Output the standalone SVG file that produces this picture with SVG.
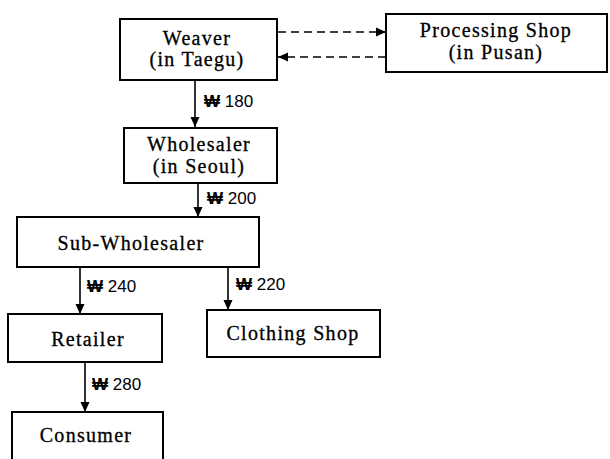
<svg xmlns="http://www.w3.org/2000/svg" width="610" height="459" viewBox="0 0 610 459">
<defs>
<marker id="ah" viewBox="0 0 10 10" refX="10" refY="5" markerWidth="10" markerHeight="11" markerUnits="userSpaceOnUse" orient="auto">
<path d="M0,0.5 L10,5 L0,9.5 Z" fill="#000"/>
</marker>
<style>
.box{fill:#fff;stroke:#000;stroke-width:2}
.t{font-family:"Liberation Serif","Times New Roman",serif;font-size:20px;letter-spacing:1.3px;text-anchor:middle;fill:#000;stroke:#000;stroke-width:0.3}
.lbl{font-family:"Liberation Sans","DejaVu Sans",sans-serif;font-size:17px;fill:#000}
.w{font-weight:bold}
.c{stroke:#000;stroke-width:1.6;fill:none;marker-end:url(#ah)}
.d{stroke-dasharray:8 5}
</style>
</defs>
<rect width="610" height="459" fill="#fff"/>
<g id="connectors">
<line class="c d" x1="278" y1="32" x2="386" y2="32"/>
<line class="c d" x1="386" y1="57" x2="278" y2="57"/>
<line class="c" x1="195" y1="80" x2="195" y2="127"/>
<text class="lbl" x="204" y="107"><tspan class="w">₩</tspan> 180</text>
<line class="c" x1="198" y1="183" x2="198" y2="217"/>
<text class="lbl" x="207" y="204"><tspan class="w">₩</tspan> 200</text>
<line class="c" x1="80" y1="267" x2="80" y2="314"/>
<text class="lbl" x="87" y="292"><tspan class="w">₩</tspan> 240</text>
<line class="c" x1="228" y1="266" x2="228" y2="310"/>
<text class="lbl" x="236" y="290"><tspan class="w">₩</tspan> 220</text>
<line class="c" x1="85" y1="362" x2="85" y2="412"/>
<text class="lbl" x="92" y="390"><tspan class="w">₩</tspan> 280</text>
</g>
<g id="weaver">
<rect class="box" x="120" y="19" width="157" height="61"/>
<text class="t" x="197" y="45">Weaver</text>
<text class="t" x="197" y="66">(in Taegu)</text>
</g>
<g id="processing">
<rect class="box" x="386" y="14" width="221" height="58"/>
<text class="t" x="496" y="37">Processing Shop</text>
<text class="t" x="496" y="59">(in Pusan)</text>
</g>
<g id="wholesaler">
<rect class="box" x="124" y="128" width="153" height="55"/>
<text class="t" x="199" y="151">Wholesaler</text>
<text class="t" x="199" y="173">(in Seoul)</text>
</g>
<g id="subwholesaler">
<rect class="box" x="17" y="217" width="242" height="50"/>
<text class="t" x="131" y="250">Sub-Wholesaler</text>
</g>
<g id="retailer">
<rect class="box" x="8" y="314" width="154" height="48"/>
<text class="t" x="88" y="346">Retailer</text>
</g>
<g id="clothing">
<rect class="box" x="207" y="310" width="173" height="47"/>
<text class="t" x="293" y="340">Clothing Shop</text>
</g>
<g id="consumer">
<rect class="box" x="12" y="412" width="151" height="52"/>
<text class="t" x="86" y="442">Consumer</text>
</g>
</svg>
